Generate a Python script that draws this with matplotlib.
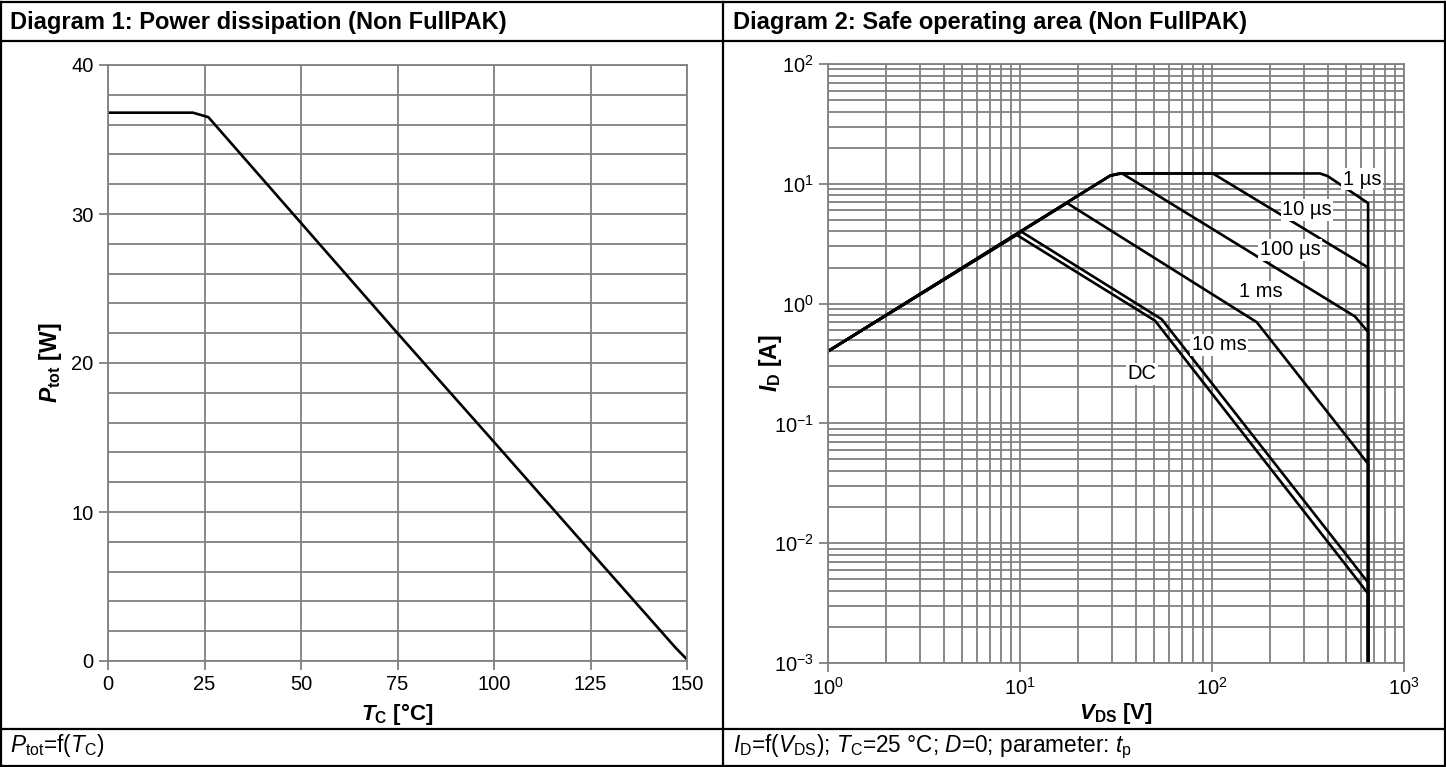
import matplotlib
matplotlib.use("Agg")
import matplotlib.pyplot as plt
from matplotlib.lines import Line2D
from matplotlib.ticker import MultipleLocator, LogLocator, NullFormatter

plt.rcParams['font.family'] = ['Liberation Sans', 'DejaVu Sans']
plt.rcParams['mathtext.fontset'] = 'custom'
plt.rcParams['mathtext.rm'] = 'Liberation Sans'
plt.rcParams['mathtext.it'] = 'Liberation Sans:italic'
plt.rcParams['mathtext.bf'] = 'Liberation Sans:bold'
plt.rcParams['mathtext.bfit'] = 'Liberation Sans:italic:bold'

# ---------------- data ----------------
# Diagram 1: power dissipation
tc_values = [0, 22, 26, 75, 100, 125, 147, 150]
ptot_values = [36.8, 36.8, 36.5, 22.0, 14.7, 7.35, 0.9, 0.1]

# Diagram 2: safe operating area (V_DS [V], I_D [A])
soa_1us_v = [1, 29.5, 33, 365, 400, 650, 650]
soa_1us_i = [0.4, 11.7, 12.2, 12.2, 11.6, 6.9, 0.001]
soa_10us_v = [1, 29.5, 33, 101, 650, 650]
soa_10us_i = [0.4, 11.7, 12.2, 12.2, 2.0, 0.001]
soa_100us_v = [1, 29.5, 34, 556, 650, 650]
soa_100us_i = [0.4, 11.7, 12.2, 0.78, 0.58, 0.001]
soa_1ms_v = [1, 17.6, 171, 650, 650]
soa_1ms_i = [0.4, 6.9, 0.70, 0.046, 0.001]
soa_10ms_v = [1, 10.2, 54.7, 650, 650]
soa_10ms_i = [0.4, 3.97, 0.74, 0.0047, 0.001]
soa_dc_v = [1, 9.6, 50.5, 650, 650]
soa_dc_i = [0.4, 3.75, 0.72, 0.0038, 0.001]

curve_labels = ["1 µs", "10 µs", "100 µs", "1 ms", "10 ms", "DC"]
label_v = [604, 312, 255, 180, 109, 43.2]
label_i = [10.9, 6.07, 2.81, 1.25, 0.452, 0.259]

titles = ["Diagram 1: Power dissipation (Non FullPAK)",
          "Diagram 2: Safe operating area (Non FullPAK)"]
footers = [r"$\mathit{P}_{\mathrm{tot}}$=f($\mathit{T}_{\mathrm{C}}$)",
           r"$\mathit{I}_{\mathrm{D}}$=f($\mathit{V}_{\mathrm{DS}}$); $\mathit{T}_{\mathrm{C}}$=25 °C; $\mathit{D}$=0; parameter: $\mathit{t}_{\mathrm{p}}$"]

# ---------------- figure ----------------
W, H = 1446, 767
fig = plt.figure(figsize=(W / 100, H / 100), dpi=100)

GRID = '#808080'
GLW = 1.3
LW = 1.9
TICK_FS = 14.5


def fx(px):
    return px / W


def fy(py):
    return 1 - py / H


# table borders
border_kw = dict(color='black', lw=1.6, transform=fig.transFigure)
for seg in [([fx(1), fx(1445)], [fy(2), fy(2)]),
            ([fx(1), fx(1445)], [fy(766), fy(766)]),
            ([fx(1), fx(1)], [fy(2), fy(766)]),
            ([fx(1445), fx(1445)], [fy(2), fy(766)]),
            ([fx(723), fx(723)], [fy(2), fy(766)]),
            ([fx(1), fx(1445)], [fy(41), fy(41)]),
            ([fx(1), fx(1445)], [fy(729), fy(729)])]:
    fig.add_artist(Line2D(seg[0], seg[1], **border_kw))

fig.text(fx(10), fy(28.5), titles[0], fontsize=17, fontweight='bold',
         ha='left', va='baseline')
fig.text(fx(733), fy(28.5), titles[1], fontsize=17, fontweight='bold',
         ha='left', va='baseline')
fig.text(fx(10), fy(752), footers[0], fontsize=16.3, ha='left', va='baseline')
fig.text(fx(733), fy(752), footers[1], fontsize=16.3, ha='left', va='baseline')

# ---------------- left axes ----------------
L0, L1, T0, T1 = 108, 687, 65, 661
ax1 = fig.add_axes([fx(L0), fy(T1), (L1 - L0) / W, (T1 - T0) / H])
ax1.set_xlim(0, 150)
ax1.set_ylim(0, 40)
ax1.xaxis.set_major_locator(MultipleLocator(25))
ax1.yaxis.set_major_locator(MultipleLocator(10))
ax1.yaxis.set_minor_locator(MultipleLocator(2))
ax1.grid(True, which='major', color=GRID, lw=GLW)
ax1.grid(True, which='minor', axis='y', color=GRID, lw=GLW)
ax1.tick_params(which='major', direction='out', length=6.3, width=GLW,
                color=GRID, labelsize=TICK_FS, pad=4)
ax1.tick_params(which='minor', length=0)
for s in ax1.spines.values():
    s.set_color(GRID)
    s.set_linewidth(GLW)
ax1.set_axisbelow(True)
ax1.plot(tc_values, ptot_values, color='black', lw=LW, solid_joinstyle='round')
ax1.text(0.5, -(714 - T1) / (T1 - T0), r"$\mathbfit{T}_{\mathbf{C}}$ [°C]",
         transform=ax1.transAxes, ha='center', va='center', fontsize=16,
         fontweight='bold')
ax1.text(-0.1, 0.5, r"$\mathbfit{P}_{\mathbf{tot}}$ [W]", transform=ax1.transAxes,
         ha='center', va='center', fontsize=16.5, fontweight='bold', rotation=90)

# ---------------- right axes ----------------
R0, R1, U0, U1 = 828, 1404, 64, 663
ax2 = fig.add_axes([fx(R0), fy(U1), (R1 - R0) / W, (U1 - U0) / H])
ax2.set_xscale('log')
ax2.set_yscale('log')
ax2.set_xlim(1, 1000)
ax2.set_ylim(1e-3, 100)
for axis in (ax2.xaxis, ax2.yaxis):
    axis.set_major_locator(LogLocator(base=10, numticks=20))
    axis.set_minor_locator(LogLocator(base=10, subs=range(2, 10), numticks=20))
    axis.set_minor_formatter(NullFormatter())
ax2.grid(True, which='both', color=GRID, lw=GLW)
ax2.tick_params(which='major', direction='out', length=6.3, width=GLW,
                color=GRID, labelsize=TICK_FS, pad=4)
ax2.tick_params(which='minor', length=0)
for s in ax2.spines.values():
    s.set_color(GRID)
    s.set_linewidth(GLW)
ax2.set_axisbelow(True)

series = [(soa_1us_v, soa_1us_i), (soa_10us_v, soa_10us_i),
          (soa_100us_v, soa_100us_i), (soa_1ms_v, soa_1ms_i),
          (soa_10ms_v, soa_10ms_i), (soa_dc_v, soa_dc_i)]
for v, i in series:
    ax2.plot(v, i, color='black', lw=LW, solid_joinstyle='round')

for txt, v, i in zip(curve_labels, label_v, label_i):
    ax2.text(v, i, txt, ha='center', va='center', fontsize=14.5, zorder=5,
             bbox=dict(facecolor='white', edgecolor='none', pad=1.0))

ax2.text(0.5, -(713 - U1) / (U1 - U0), r"$\mathbfit{V}_{\mathbf{DS}}$ [V]",
         transform=ax2.transAxes, ha='center', va='center', fontsize=16,
         fontweight='bold')
ax2.text(-0.1, 0.5, r"$\mathbfit{I}_{\mathbf{D}}$ [A]", transform=ax2.transAxes,
         ha='center', va='center', fontsize=16.5, fontweight='bold', rotation=90)

fig.savefig('out.png', dpi=100)
